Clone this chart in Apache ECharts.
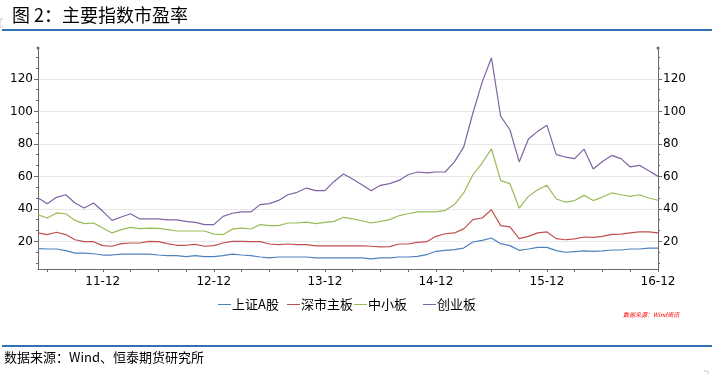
<!DOCTYPE html>
<html>
<head>
<meta charset="utf-8">
<script src="https://cdn.jsdelivr.net/npm/echarts@6/dist/echarts.min.js"></script>
<style>
html,body{margin:0;padding:0;background:#fff;}
#c{width:712px;height:374px;}
</style>
</head>
<body>
<div id="c"></div>
<script>
const categories = ["11-05","11-06","11-07","11-08","11-09","11-10","11-11","11-12",
"12-01","12-02","12-03","12-04","12-05","12-06","12-07","12-08","12-09","12-10","12-11","12-12",
"13-01","13-02","13-03","13-04","13-05","13-06","13-07","13-08","13-09","13-10","13-11","13-12",
"14-01","14-02","14-03","14-04","14-05","14-06","14-07","14-08","14-09","14-10","14-11","14-12",
"15-01","15-02","15-03","15-04","15-05","15-06","15-07","15-08","15-09","15-10","15-11","15-12",
"16-01","16-02","16-03","16-04","16-05","16-06","16-07","16-08","16-09","16-10","16-11","16-12"];

const seriesNames = ["上证A股","深市主板","中小板","创业板"];

const shA = [15.5,15.3,15.3,14.3,12.8,12.8,12.4,11.6,11.6,12.2,12.2,12.2,12.2,11.6,11.2,11.2,10.6,11.2,10.6,10.6,
11.2,12.2,11.6,11.2,10.4,9.8,10.4,10.4,10.4,10.4,9.8,9.8,9.8,9.8,9.8,9.8,9.2,9.8,9.8,10.4,
10.4,10.8,11.8,13.9,14.5,14.9,15.9,19.6,20.6,22.1,18.6,17.4,14.5,15.3,16.3,16.3,14.3,13.3,13.7,14.1,
13.9,14.1,14.7,14.7,15.3,15.3,15.9,15.9];

const szMain = [25.2,24.2,25.6,24.2,21.0,19.8,19.8,17.4,17.0,18.6,19.0,19.0,20.0,19.8,18.6,17.6,17.6,18.2,17.0,17.4,
19.0,20.0,20.0,19.8,19.8,18.4,18.0,18.4,18.0,18.0,17.2,17.2,17.2,17.2,17.2,17.2,17.0,16.6,16.8,18.4,
18.4,19.4,19.8,23.1,24.7,25.2,27.7,33.4,34.4,39.5,29.7,28.9,21.7,23.1,25.2,25.8,21.7,21.0,21.5,22.7,
22.5,23.1,24.3,24.5,25.2,25.8,25.8,25.2];

const sme = [36.4,34.4,37.5,37.0,32.9,30.9,31.3,28.2,25.2,27.2,28.6,27.8,28.2,28.0,27.2,26.4,26.4,26.4,26.4,24.5,
24.2,27.5,28.2,27.6,30.3,29.7,29.7,31.3,31.3,31.9,30.9,31.7,32.3,34.8,33.8,32.7,31.3,32.3,33.4,35.8,
37.0,38.1,38.1,38.1,39.1,42.6,49.8,61.0,68.2,77.0,57.4,55.5,40.5,47.7,51.8,54.5,46.1,44.2,45.1,48.3,
45.1,47.3,49.8,48.7,47.7,48.7,46.7,45.3];

const chinext = [46.9,43.2,47.1,48.7,43.6,40.5,43.6,38.5,32.9,35.0,37.0,33.8,33.8,33.8,33.2,33.2,32.3,31.7,30.3,30.3,
35.4,37.3,38.1,38.1,42.6,43.2,45.2,48.7,50.2,52.8,51.2,51.2,56.9,61.5,58.4,54.9,51.2,54.5,55.5,57.5,
61.0,62.7,62.1,62.7,62.7,68.9,78.0,99.0,118.0,133.0,96.9,88.7,68.9,83.0,87.7,91.4,73.4,71.9,70.9,76.8,
64.5,69.2,72.9,70.9,65.8,66.8,63.5,60.0];

const yTickLabels = [20,40,60,80,100,120];
const yMinorTicks = [6.67,13.33,26.67,33.33,46.67,53.33,66.67,73.33,86.67,93.33,106.67,113.33,126.67,133.33];

const colors = ["#4F81BD","#C0504D","#9BBB59","#8064A2"];
const dataSets = [shA, szMain, sme, chinext];

const Y_MIN = 3, Y_MAX = 139;
const axisColor = "#6a6a6a";
const labelFont = "DejaVu Sans";

function monthOf(v){ return parseInt(v.slice(3), 10); }

const chart = echarts.init(document.getElementById('c'), null, {renderer: 'canvas'});

function yAxisMajor(pos){
  return {
    type: 'value', position: pos, min: Y_MIN, max: Y_MAX,
    axisLine: {show: true, lineStyle: {color: axisColor, width: 1}, symbol: ['none','circle'], symbolSize: [3,3]},
    axisTick: {show: true, length: 4, lineStyle: {color: axisColor}, customValues: yTickLabels},
    axisLabel: {show: true, customValues: yTickLabels, color: '#000', fontSize: 12, fontFamily: labelFont, margin: 5},
    splitLine: {show: pos === 'left', lineStyle: {color: '#e8e8e8', width: 1}}
  };
}
function yAxisMinor(pos){
  return {
    type: 'value', position: pos, min: Y_MIN, max: Y_MAX,
    axisLine: {show: false},
    axisTick: {show: true, length: 2, lineStyle: {color: axisColor}, customValues: yMinorTicks},
    axisLabel: {show: false},
    splitLine: {show: false}
  };
}

const option = {
  animation: false,
  backgroundColor: '#fff',
  grid: {left: 38, right: 54, top: 48, bottom: 105, containLabel: false},
  xAxis: {
    type: 'category', data: categories, boundaryGap: false,
    axisLine: {lineStyle: {color: axisColor}},
    axisTick: {show: true, length: 3, lineStyle: {color: axisColor},
      interval: function(idx, v){ return monthOf(v) % 3 === 0; }},
    axisLabel: {color: '#000', fontSize: 12, fontFamily: labelFont, margin: 7,
      interval: function(idx, v){ return monthOf(v) === 12; }},
    splitLine: {show: false}
  },
  yAxis: [yAxisMajor('left'), yAxisMajor('right'), yAxisMinor('left'), yAxisMinor('right')],
  legend: seriesNames.map(function(n, i){
    return {
      data: [n], left: [213, 282, 349, 418][i], top: 293,
      icon: 'rect', itemWidth: 13, itemHeight: 1, itemGap: 0,
      textStyle: {color: '#000', fontSize: 13, fontFamily: 'Noto Sans CJK SC', padding: [0,0,0,-4]}
    };
  }),
  series: seriesNames.map(function(n, i){
    return {
      name: n, type: 'line', data: dataSets[i], yAxisIndex: 0,
      symbol: 'none', smooth: false,
      lineStyle: {color: colors[i], width: 1.2},
      itemStyle: {color: colors[i]}
    };
  }),
  graphic: [
    {type: 'text', left: 12, top: 6, style: {text: '图 2：主要指数市盈率', fill: '#000', font: '18px "Noto Sans CJK SC"'}},
    {type: 'line', shape: {x1: 2, y1: 30, x2: 712, y2: 30}, style: {stroke: '#2F71B4', lineWidth: 2}},
    {type: 'polyline', shape: {points: [[3,19],[0,19],[0,27],[3,27]]}, style: {stroke: '#c8c8c8', lineWidth: 1, fill: null}},
    {type: 'text', left: 623, top: 312, style: {text: '数据来源：Wind资讯', fill: '#ff0000', font: 'italic 6px "Noto Sans CJK SC"'}},
    {type: 'line', shape: {x1: 2, y1: 346, x2: 712, y2: 346}, style: {stroke: '#2F71B4', lineWidth: 2}},
    {type: 'text', left: 4, top: 351, style: {text: '数据来源：Wind、恒泰期货研究所', fill: '#000', font: '13px "Noto Sans CJK SC"'}},
    {type: 'polyline', shape: {points: [[704,371],[708,371],[708,374]]}, style: {stroke: '#c8c8c8', lineWidth: 1, fill: null}}
  ]
};
chart.setOption(option);
</script>
</body>
</html>
